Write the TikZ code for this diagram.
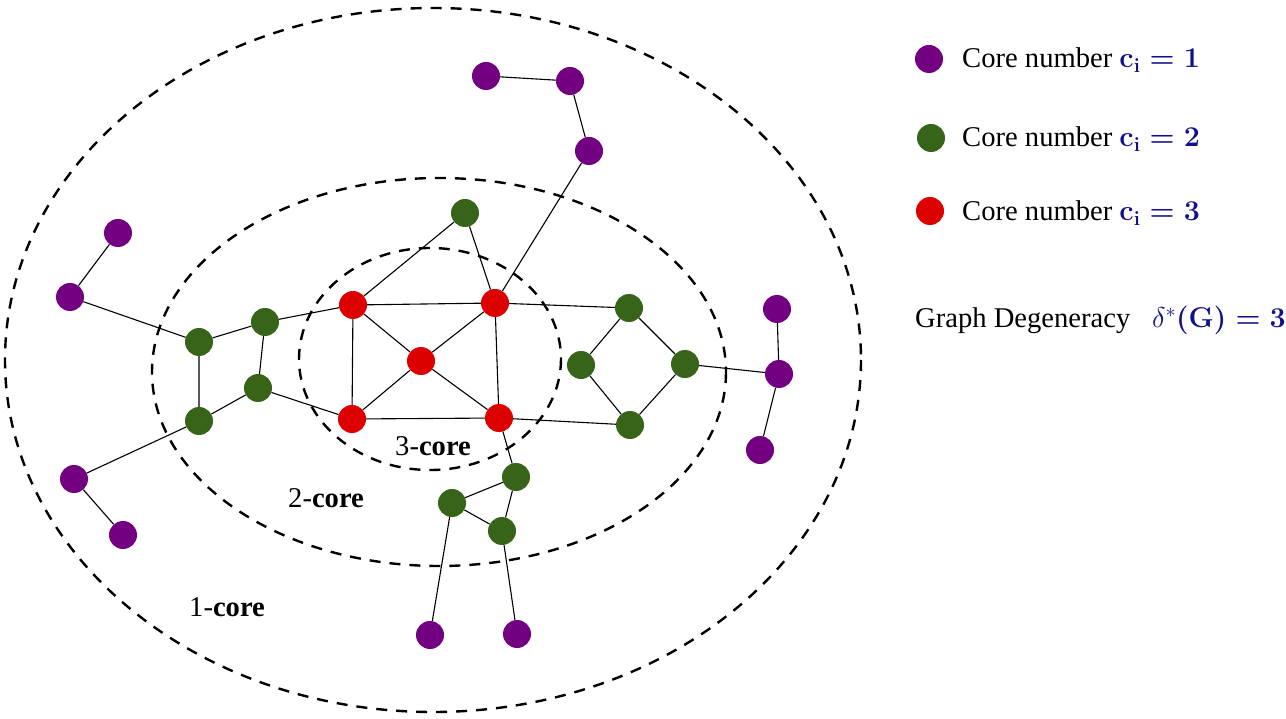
\RequirePackage{fix-cm}
\documentclass[tikz,border=0pt]{standalone}
\usepackage[no-math]{fontspec}
\setmainfont{Liberation Serif}
\definecolor{cpurple}{RGB}{115,0,128}
\definecolor{cgreen}{RGB}{56,100,26}
\definecolor{cred}{RGB}{221,0,0}
\definecolor{cblue}{RGB}{16,16,140}
\tikzset{
  vtx/.style={circle,minimum size=28pt,inner sep=0pt,draw=none},
  pv/.style={vtx,fill=cpurple},
  gv/.style={vtx,fill=cgreen},
  rv/.style={vtx,fill=cred},
  edge/.style={line width=1.1pt,black},
  coreline/.style={line width=2.4pt,dash pattern=on 11pt off 9pt},
  lbl/.style={inner sep=0pt,anchor=base west,font=\fontsize{28.6}{34}\selectfont}
}
\begin{document}
\begin{tikzpicture}[x=1pt,y=-1pt]
\useasboundingbox (0,0) rectangle (1286,719);
% core ellipses
\draw[coreline] (433,360) ellipse [x radius=428, y radius=352];
\draw[coreline] (439,372) ellipse [x radius=287, y radius=194];
\draw[coreline] (430,359) ellipse [x radius=131, y radius=111];
% red
\node[rv] (r1) at (353,305) {};
\node[rv] (r2) at (495,303) {};
\node[rv] (r3) at (421,361) {};
\node[rv] (r4) at (352,419) {};
\node[rv] (r5) at (499,418) {};
% green
\node[gv] (gt) at (465,213) {};
\node[gv] (gl1) at (199,342) {};
\node[gv] (gl2) at (265,322) {};
\node[gv] (gl3) at (258,388) {};
\node[gv] (gl4) at (199,421) {};
\node[gv] (gr1) at (629,308) {};
\node[gv] (gr2) at (581,365) {};
\node[gv] (gr3) at (685,364) {};
\node[gv] (gr4) at (630,425) {};
\node[gv] (gb1) at (516,477) {};
\node[gv] (gb2) at (452,503) {};
\node[gv] (gb3) at (502,531) {};
% purple
\node[pv] (p1) at (486,76) {};
\node[pv] (p2) at (570,81) {};
\node[pv] (p3) at (589,151) {};
\node[pv] (p4) at (118,233) {};
\node[pv] (p5) at (70,297) {};
\node[pv] (p6) at (74,479) {};
\node[pv] (p7) at (123,535) {};
\node[pv] (p8) at (777,309) {};
\node[pv] (p9) at (779,374) {};
\node[pv] (p10) at (760,450) {};
\node[pv] (p11) at (430,635) {};
\node[pv] (p12) at (517,634) {};
% edges
\draw[edge] (p1)--(p2) (p2)--(p3) (p3)--(r2);
\draw[edge] (p4)--(p5) (p5)--(gl1);
\draw[edge] (gl1)--(gl2) (gl1)--(gl4) (gl2)--(gl3) (gl2)--(r1) (gl3)--(gl4) (gl3)--(r4) (gl4)--(p6) (p6)--(p7);
\draw[edge] (r1)--(r2) (r1)--(r3) (r1)--(r4) (r1)--(gt) (r2)--(gt) (r2)--(r3) (r2)--(r5) (r2)--(gr1)
  (r3)--(r4) (r3)--(r5) (r4)--(r5) (r5)--(gr4) (r5)--(gb1);
\draw[edge] (gr1)--(gr2) (gr1)--(gr3) (gr2)--(gr4) (gr3)--(gr4) (gr3)--(p9) (p8)--(p9) (p9)--(p10);
\draw[edge] (gb1)--(gb2) (gb1)--(gb3) (gb2)--(gb3) (gb2)--(p11) (gb3)--(p12);
% core labels
\node[lbl] (t3) at (395,455) {3-\textbf{core}};
\node[lbl] (t2) at (288,507) {2-\textbf{core}};
\node[lbl] (t1) at (189,616) {1-\textbf{core}};
% legend
\node[pv] (l1) at (929,59) {};
\node[gv] (l2) at (931,138) {};
\node[rv] (l3) at (930,211) {};
\node[lbl] (lt1) at (962,68) {Core number \textcolor{cblue}{\boldmath$\mathbf{c_i=1}$}};
\node[lbl] (lt2) at (962,147) {Core number \textcolor{cblue}{\boldmath$\mathbf{c_i=2}$}};
\node[lbl] (lt3) at (962,221) {Core number \textcolor{cblue}{\boldmath$\mathbf{c_i=3}$}};
\node[lbl] (gd) at (915,328) {Graph Degeneracy};
\node[lbl] (gdv) at (1152,328) {\textcolor{cblue}{$\delta^{*}$\boldmath$\mathbf{(G)=3}$}};
\end{tikzpicture}
\end{document}
